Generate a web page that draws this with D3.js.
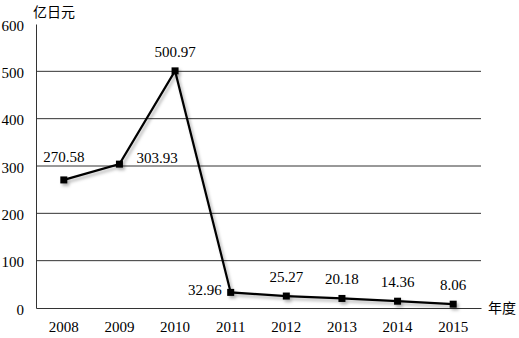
<!DOCTYPE html>
<html>
<head>
<meta charset="utf-8">
<script src="https://cdn.jsdelivr.net/npm/d3@7"></script>
<style>
  body { margin: 0; background: #fff; }
  svg text { font-family: "Liberation Serif", "Times New Roman", serif; fill: #000; }
  svg text.cjk { font-family: "Noto Sans CJK SC", sans-serif; }
</style>
</head>
<body>
<div id="chart"></div>
<script>
// Data
const years = ["2008", "2009", "2010", "2011", "2012", "2013", "2014", "2015"];
const values = [270.58, 303.93, 500.97, 32.96, 25.27, 20.18, 14.36, 8.06];
const yTicks = [0, 100, 200, 300, 400, 500, 600];

const serif = '"Liberation Serif", "Times New Roman", serif';
const width = 519;
const height = 338;
const margin = { top: 24, right: 38, bottom: 30, left: 36 };
const innerW = width - margin.left - margin.right;
const innerH = height - margin.top - margin.bottom;

const svg = d3.select("#chart")
    .append("svg")
    .attr("width", width)
    .attr("height", height)
    .attr("font-family", serif);

// soft grey shadow under the line
const defs = svg.append("defs");
const f = defs.append("filter").attr("id", "shadow")
    .attr("x", "-10%").attr("y", "-10%").attr("width", "120%").attr("height", "120%");
f.append("feDropShadow")
    .attr("dx", 2).attr("dy", 2.5).attr("stdDeviation", 1.6)
    .attr("flood-color", "#000").attr("flood-opacity", 0.3);

const g = svg.append("g")
    .attr("transform", `translate(${margin.left},${margin.top})`);

// Scales
const x = d3.scaleBand()
    .domain(years)
    .range([0, innerW]);

const y = d3.scaleLinear()
    .domain([0, 600])
    .range([innerH, 0]);

// Grid lines (none at the top value)
g.append("g")
    .selectAll("line")
    .data(yTicks.filter(d => d > 0 && d < 600))
    .enter()
    .append("line")
    .attr("x1", 0)
    .attr("x2", innerW)
    .attr("y1", d => y(d))
    .attr("y2", d => y(d))
    .attr("stroke", "#333")
    .attr("stroke-width", 1);

// Y axis
const yAxis = g.append("g")
    .call(d3.axisLeft(y).tickValues(yTicks).tickSize(0).tickPadding(12));
yAxis.attr("font-family", serif);
yAxis.select(".domain").attr("stroke", "#333");
yAxis.selectAll("text")
    .style("font-family", serif)
    .style("font-size", "15px")
    .attr("dy", "0.4em");

// X axis
const xAxis = g.append("g")
    .attr("transform", `translate(0,${innerH})`)
    .call(d3.axisBottom(x).tickSize(0).tickPadding(13));
xAxis.attr("font-family", serif);
xAxis.select(".domain").attr("stroke", "#333");
xAxis.selectAll("text")
    .style("font-family", serif)
    .style("font-size", "15px");

// Line
const line = d3.line()
    .x((d, i) => x(years[i]) + x.bandwidth() / 2)
    .y(d => y(d));

const series = g.append("g").attr("filter", "url(#shadow)");

series.append("path")
    .datum(values)
    .attr("fill", "none")
    .attr("stroke", "#000")
    .attr("stroke-width", 2.2)
    .attr("d", line);

series.selectAll("rect")
    .data(values)
    .enter()
    .append("rect")
    .attr("x", (d, i) => x(years[i]) + x.bandwidth() / 2 - 3.5)
    .attr("y", d => y(d) - 3.5)
    .attr("width", 7)
    .attr("height", 7)
    .attr("fill", "#000");

// Data labels: above by default, right for 2009, left for 2011
const place = ["above", "right", "above", "left", "above", "above", "above", "above"];
g.selectAll(".lbl")
    .data(values)
    .enter()
    .append("text")
    .attr("class", "lbl")
    .attr("x", (d, i) => {
        const cx = x(years[i]) + x.bandwidth() / 2;
        if (place[i] === "right") return cx + 17;
        if (place[i] === "left") return cx - 9;
        return cx;
    })
    .attr("y", (d, i) => {
        const cy = y(d);
        if (place[i] === "right") return cy - 1;
        if (place[i] === "left") return cy + 3;
        return i === 0 ? cy - 18 : cy - 14;
    })
    .attr("text-anchor", (d, i) => place[i] === "right" ? "start" : place[i] === "left" ? "end" : "middle")
    .style("font-family", serif)
    .style("font-size", "15px")
    .text(d => d.toFixed(2));

// Unit labels
svg.append("text")
    .attr("class", "cjk")
    .attr("x", 33)
    .attr("y", 17)
    .style("font-size", "14px")
    .text("亿日元");

svg.append("text")
    .attr("class", "cjk")
    .attr("x", margin.left + innerW + 7)
    .attr("y", margin.top + innerH + 5)
    .style("font-size", "14px")
    .text("年度");
</script>
</body>
</html>
